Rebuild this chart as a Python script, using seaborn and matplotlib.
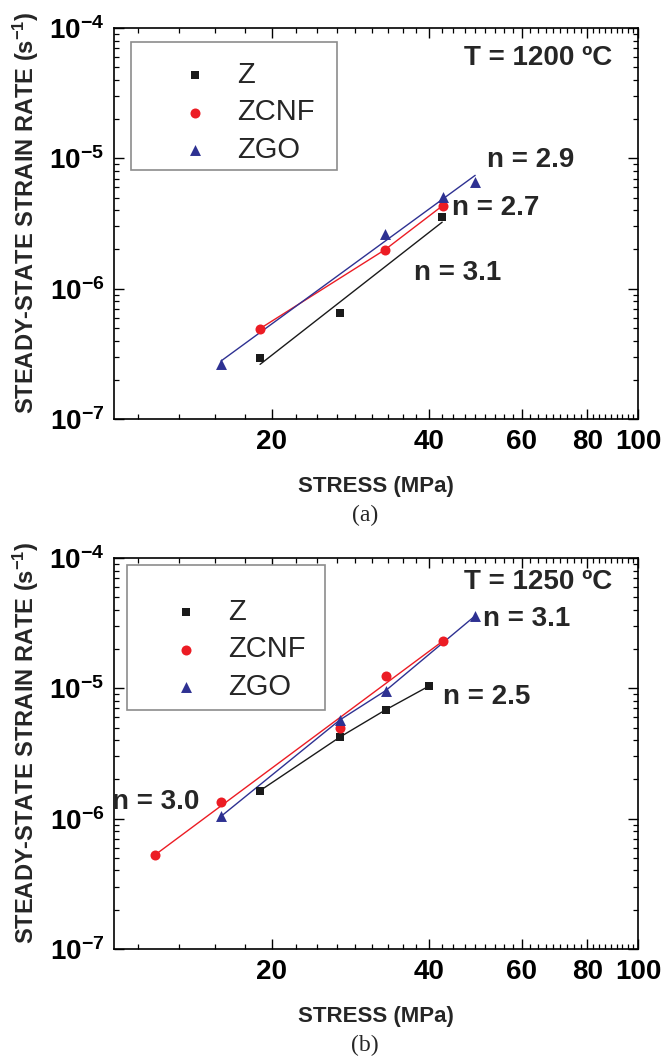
import numpy as np
import pandas as pd
import matplotlib
matplotlib.use("Agg")
import matplotlib.pyplot as plt
import seaborn as sns
from matplotlib.ticker import FixedLocator, NullFormatter, FuncFormatter, LogLocator
from matplotlib.patches import Rectangle

# ---------------- data ----------------
# Panel (a): T = 1200 C
a_Z_stress = [19.0, 27.0, 42.3]
a_Z_rate = [2.93e-7, 6.5e-7, 3.53e-6]
a_ZCNF_stress = [19.0, 32.9, 42.4]
a_ZCNF_rate = [4.94e-7, 1.99e-6, 4.34e-6]
a_ZGO_stress = [16.0, 32.9, 42.4, 48.9]
a_ZGO_rate = [2.64e-7, 2.64e-6, 5.08e-6, 6.55e-6]

# Panel (b): T = 1250 C
b_Z_stress = [19.0, 27.0, 33.0, 40.0]
b_Z_rate = [1.64e-6, 4.23e-6, 6.84e-6, 1.045e-5]
b_ZCNF_stress = [12.0, 16.0, 27.0, 33.0, 42.4]
b_ZCNF_rate = [5.26e-7, 1.33e-6, 4.95e-6, 1.25e-5, 2.29e-5]
b_ZGO_stress = [16.0, 27.0, 33.0, 48.9]
b_ZGO_rate = [1.04e-6, 5.73e-6, 9.6e-6, 3.6e-5]

series_names = ["Z", "ZCNF", "ZGO"]
x_major_ticks = [20, 40, 60, 80, 100]

# ---------------- style ----------------
sns.set_theme(style="white")
plt.rcParams["font.family"] = ["Liberation Sans", "DejaVu Sans"]
plt.rcParams["font.weight"] = "bold"
plt.rcParams["mathtext.fontset"] = "custom"
plt.rcParams["mathtext.rm"] = "Liberation Sans:bold"
plt.rcParams["mathtext.bf"] = "Liberation Sans:bold"
plt.rcParams["mathtext.it"] = "Liberation Sans:bold"
plt.rcParams["mathtext.sf"] = "Liberation Sans:bold"
plt.rcParams.update({
    "xtick.bottom": True, "xtick.top": True, "ytick.left": True, "ytick.right": True,
    "xtick.direction": "in", "ytick.direction": "in",
    "xtick.color": "black", "ytick.color": "black",
    "xtick.major.size": 7, "ytick.major.size": 7,
    "xtick.minor.size": 3.5, "ytick.minor.size": 3.5,
    "xtick.major.width": 1.0, "ytick.major.width": 1.0,
    "xtick.minor.width": 0.9, "ytick.minor.width": 0.9,
})

colors = {"Z": "#1a1a1a", "ZCNF": "#ec1c24", "ZGO": "#2e3192"}
markers = {"Z": "s", "ZCNF": "o", "ZGO": "^"}
sizes = {"Z": 40, "ZCNF": 52, "ZGO": 62}

panels = [
    dict(
        data={"Z": (a_Z_stress, a_Z_rate), "ZCNF": (a_ZCNF_stress, a_ZCNF_rate),
              "ZGO": (a_ZGO_stress, a_ZGO_rate)},
        fit={"Z": True, "ZCNF": False, "ZGO": True},
        bottom=0.6051, temp="T = 1200 \u00baC", temp_pos=(0.950, 0.923),
        notes=[("n = 2.9", 51.5, 9.66e-6), ("n = 2.7", 44.2, 4.13e-6), ("n = 3.1", 37.3, 1.33e-6)],
        box=(0.0319, 0.6368, 0.4256, 0.9652), leg_anchor=(0.1267, 0.916),
        caption="(a)", cap_y=1 - 515 / 1061,
    ),
    dict(
        data={"Z": (b_Z_stress, b_Z_rate), "ZCNF": (b_ZCNF_stress, b_ZCNF_rate),
              "ZGO": (b_ZGO_stress, b_ZGO_rate)},
        fit={"Z": False, "ZCNF": True, "ZGO": False},
        bottom=0.1056, temp="T = 1250 \u00baC", temp_pos=(0.950, 0.939),
        notes=[("n = 3.1", 50.7, 3.38e-5), ("n = 2.5", 42.5, 8.6e-6), ("n = 3.0", 9.9, 1.35e-6)],
        box=(0.0248, 0.610, 0.4027, 0.9816), leg_anchor=(0.1095, 0.898),
        caption="(b)", cap_y=1 - 1045 / 1061,
    ),
]

fig = plt.figure(figsize=(6.62, 10.61), dpi=100)

x_minor = [v for v in np.arange(1, 46) * 20 / 9
           if 10 < v < 100 and min(abs(v - m) for m in x_major_ticks) > 0.1]

for p in panels:
    ax = fig.add_axes([0.1722, p["bottom"], 0.7915, 0.3685])
    ax.set_xscale("log")
    ax.set_yscale("log")
    for name in series_names:
        xs, ys = p["data"][name]
        df = pd.DataFrame({"stress": xs, "rate": ys})
        c = colors[name]
        if p["fit"][name]:
            coef = np.polyfit(np.log10(df["stress"]), np.log10(df["rate"]), 1)
            lx = np.array([df["stress"].min(), df["stress"].max()])
            ly = 10 ** np.polyval(coef, np.log10(lx))
            sns.lineplot(x=lx, y=ly, color=c, lw=1.0, ax=ax, legend=False, zorder=2)
        else:
            sns.lineplot(data=df, x="stress", y="rate", color=c, lw=1.0, ax=ax,
                         legend=False, sort=False, zorder=2)
        sns.scatterplot(data=df, x="stress", y="rate", marker=markers[name], color=c,
                        s=sizes[name], linewidth=0, ax=ax, label=name, zorder=3)

    ax.set_xlim(10, 100)
    ax.set_ylim(1e-7, 1e-4)
    ax.xaxis.set_major_locator(FixedLocator(x_major_ticks))
    ax.xaxis.set_major_formatter(FuncFormatter(lambda v, pos: f"{v:g}"))
    ax.xaxis.set_minor_locator(FixedLocator(x_minor))
    ax.xaxis.set_minor_formatter(NullFormatter())
    ax.yaxis.set_major_locator(LogLocator(base=10))
    ax.yaxis.set_major_formatter(
        FuncFormatter(lambda v, pos: r"$\mathrm{10^{%d}}$" % int(round(np.log10(v)))))
    ax.yaxis.set_minor_locator(LogLocator(base=10, subs=range(2, 10), numticks=20))
    ax.yaxis.set_minor_formatter(NullFormatter())
    ax.tick_params(which="both", direction="in", top=True, right=True, bottom=True,
                   left=True, color="black")
    ax.tick_params(which="major", length=7, width=1.0, labelsize=20, pad=7)
    ax.tick_params(which="minor", length=3.5, width=0.9)
    for s in ax.spines.values():
        s.set_color("black")
        s.set_linewidth(1.2)

    ax.set_xlabel("STRESS (MPa)", fontsize=16, fontweight="bold")
    ax.set_ylabel(r"STEADY-STATE STRAIN RATE (s$^{-1}$)", fontsize=17, fontweight="bold")
    ax.xaxis.set_label_coords(0.5, -0.145)
    ax.yaxis.set_label_coords(-0.14, 0.528)

    ax.text(p["temp_pos"][0], p["temp_pos"][1], p["temp"], transform=ax.transAxes,
            ha="right", va="center", fontsize=20, fontweight="bold")
    for txt, tx, ty in p["notes"]:
        ax.text(tx, ty, txt, ha="left", va="center", fontsize=20, fontweight="bold",
                clip_on=False)

    x0, y0, x1, y1 = p["box"]
    ax.add_patch(Rectangle((x0, y0), x1 - x0, y1 - y0, transform=ax.transAxes,
                           facecolor="white", edgecolor="#8c8c8c", lw=1.2, zorder=4))
    leg = ax.legend(loc="upper left", bbox_to_anchor=p["leg_anchor"], frameon=False,
                    borderpad=0, borderaxespad=0, handlelength=1.0, handletextpad=0.96,
                    labelspacing=0.33, prop={"family": "Liberation Sans", "weight": "normal",
                                             "size": 21})
    leg.set_zorder(5)

    fig.text(365 / 662, p["cap_y"], p["caption"], family="Liberation Serif",
             fontweight="normal", fontsize=17, ha="center", va="center")

fig.savefig("out.png", dpi=100)
